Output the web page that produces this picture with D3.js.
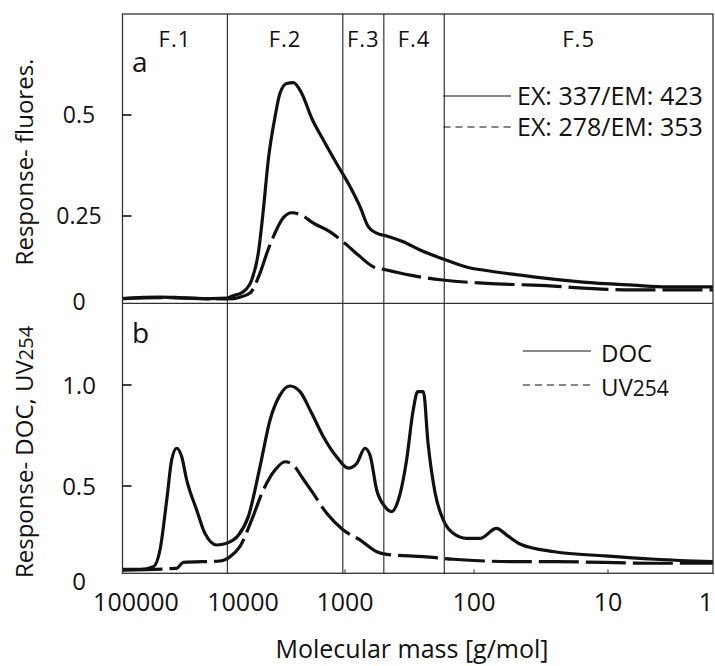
<!DOCTYPE html>
<html>
<head>
<meta charset="utf-8">
<script src="https://cdn.jsdelivr.net/npm/d3@7"></script>
<style>
  body { margin: 0; background: #fff; }
  text { font-family: "Open Sans", sans-serif; fill: #111; }
</style>
</head>
<body>
<div id="chart"></div>
<script>
// molecular mass axis (g/mol), drawn high -> low
let massTicks = [100000, 10000, 1000, 100, 10, 1];
let massExtent = [133000, 0.96];
let fractionBounds = [14000, 1050, 500, 170];
let fractionLabels = ["F.1", "F.2", "F.3", "F.4", "F.5"];

// panel a: fluorescence
let fluorTicks = [0, 0.25, 0.5];
let ex337Mass = [133000, 60000, 40000, 20000, 14000, 13200, 9930, 8220, 7080, 6320, 5650, 4850, 4340, 3730, 3210, 2660, 2120, 1630, 1210, 915, 765, 660, 568, 475, 353, 262, 173, 107, 86, 45, 36, 15.4, 5.7, 2.7, 0.96];
let ex337 = [0.010, 0.014, 0.013, 0.010, 0.011, 0.015, 0.030, 0.064, 0.142, 0.265, 0.389, 0.496, 0.554, 0.578, 0.580, 0.554, 0.492, 0.438, 0.380, 0.323, 0.273, 0.219, 0.200, 0.192, 0.175, 0.151, 0.125, 0.099, 0.093, 0.078, 0.073, 0.058, 0.049, 0.044, 0.044];
let ex278Mass = [133000, 60000, 20000, 12000, 10700, 8530, 6810, 5690, 4850, 4050, 3330, 2660, 2060, 1400, 970, 765, 607, 475, 313, 175, 80, 36, 5.7, 0.96];
let ex278 = [0.010, 0.013, 0.009, 0.010, 0.014, 0.026, 0.084, 0.151, 0.201, 0.244, 0.258, 0.252, 0.230, 0.204, 0.166, 0.132, 0.103, 0.093, 0.078, 0.064, 0.054, 0.049, 0.035, 0.035];

// panel b: DOC and UV254
let respTicks = [0, 0.5, 1.0];
let docMass = [133000, 91800, 68800, 59700, 51600, 46400, 41700, 37400, 33600, 27100, 22700, 17600, 14200, 11000, 8870, 6810, 5430, 4340, 3460, 2760, 2120, 1630, 1210, 942, 811, 700, 640, 568, 490, 435, 386, 333, 296, 273, 247, 227, 200, 173, 145, 114, 90, 68, 57, 45, 25, 10.5, 3.5, 0.96];
let doc = [0.021, 0.021, 0.036, 0.132, 0.420, 0.629, 0.687, 0.645, 0.530, 0.362, 0.228, 0.161, 0.171, 0.218, 0.324, 0.596, 0.827, 0.950, 0.995, 0.967, 0.860, 0.744, 0.645, 0.588, 0.612, 0.687, 0.653, 0.477, 0.381, 0.353, 0.420, 0.629, 0.876, 0.967, 0.967, 0.711, 0.458, 0.305, 0.228, 0.199, 0.199, 0.257, 0.218, 0.165, 0.122, 0.098, 0.079, 0.065];
let uvMass = [133000, 41700, 36100, 16400, 13200, 10700, 8220, 6320, 4850, 3870, 3210, 2660, 2050, 1510, 1040, 765, 568, 475, 247, 145, 45, 24.9, 3.5, 0.96];
let uv = [0.017, 0.027, 0.061, 0.069, 0.094, 0.151, 0.305, 0.477, 0.579, 0.620, 0.604, 0.546, 0.458, 0.343, 0.247, 0.190, 0.122, 0.107, 0.094, 0.079, 0.065, 0.065, 0.056, 0.056];

let width = 715, height = 666;
let pLeft = 122.5, pRight = 713, pTop = 14, pMid = 303.3, pBottom = 573.3;

let svg = d3.select("#chart")
  .append("svg")
  .attr("width", width)
  .attr("height", height);

// the mass axis of the original is not evenly spaced per decade
let x = d3.scaleLog()
  .domain([massExtent[0]].concat(massTicks, [massExtent[1]]))
  .range([pLeft, 136, 243, 345, 474, 608, 711, pRight]);

let yA = d3.scaleLinear().domain(fluorTicks).range([302, 216, 115]);
let yB = d3.scaleLinear().domain(respTicks).range([573, 486, 385]);

// clip paths for the two panels
let defs = svg.append("defs");
defs.append("clipPath").attr("id", "clipA")
  .append("rect").attr("x", pLeft).attr("y", pTop).attr("width", pRight - pLeft).attr("height", pMid - pTop);
defs.append("clipPath").attr("id", "clipB")
  .append("rect").attr("x", pLeft).attr("y", pMid).attr("width", pRight - pLeft).attr("height", pBottom - pMid);

function drawCurve(clip, yScale, masses, values, dashed) {
  let line = d3.line()
    .x(d => x(d[0]))
    .y(d => yScale(d[1]))
    .curve(d3.curveMonotoneX);
  svg.append("path")
    .datum(masses.map((m, i) => [m, values[i]]))
    .attr("clip-path", `url(#${clip})`)
    .attr("fill", "none")
    .attr("stroke", "#111")
    .attr("stroke-width", 3.2)
    .attr("stroke-linejoin", "round")
    .attr("stroke-dasharray", dashed ? "40,7" : null)
    .attr("d", line);
}

drawCurve("clipA", yA, ex337Mass, ex337, false);
drawCurve("clipA", yA, ex278Mass, ex278, true);
drawCurve("clipB", yB, docMass, doc, false);
drawCurve("clipB", yB, uvMass, uv, true);

// frame and fraction boundaries
svg.append("rect")
  .attr("x", pLeft).attr("y", pTop)
  .attr("width", pRight - pLeft).attr("height", pBottom - pTop)
  .attr("fill", "none").attr("stroke", "#333").attr("stroke-width", 1.3);
svg.append("line")
  .attr("x1", pLeft).attr("x2", pRight).attr("y1", pMid).attr("y2", pMid)
  .attr("stroke", "#333").attr("stroke-width", 1.3);
svg.selectAll(".frac")
  .data(fractionBounds)
  .enter().append("line")
  .attr("class", "frac")
  .attr("x1", d => x(d)).attr("x2", d => x(d))
  .attr("y1", pTop).attr("y2", pBottom)
  .attr("stroke", "#222").attr("stroke-width", 1.1);

let edges = [massExtent[0]].concat(fractionBounds, [massExtent[1]]);
svg.selectAll(".fracLabel")
  .data(fractionLabels)
  .enter().append("text")
  .attr("class", "fracLabel")
  .attr("x", (d, i) => (x(edges[i]) + x(edges[i + 1])) / 2)
  .attr("y", 47)
  .attr("text-anchor", "middle")
  .style("font-size", "22px")
  .style("letter-spacing", "1px")
  .text(d => d);

// y ticks
function yAxis(yScale, ticks, labels, size, zeroShift) {
  svg.selectAll(null)
    .data(ticks.filter(t => t > 0))
    .enter().append("line")
    .attr("x1", pLeft).attr("x2", pLeft + 9)
    .attr("y1", d => yScale(d)).attr("y2", d => yScale(d))
    .attr("stroke", "#111").attr("stroke-width", 1.6);
  svg.selectAll(null)
    .data(ticks)
    .enter().append("text")
    .attr("x", 79)
    .attr("y", d => yScale(d) + (d === 0 ? zeroShift : 0))
    .attr("dy", "0.36em")
    .attr("text-anchor", "middle")
    .style("font-size", size + "px")
    .text((d, i) => labels[i]);
}
yAxis(yA, fluorTicks, ["0", "0.25", "0.5"], 23, 0);
yAxis(yB, respTicks, ["0", "0.5", "1.0"], 24, 8);

// x ticks
svg.selectAll(".xtick")
  .data(massTicks.filter(d => d <= 1000 && d >= 10))
  .enter().append("line")
  .attr("class", "xtick")
  .attr("x1", d => x(d)).attr("x2", d => x(d))
  .attr("y1", pBottom).attr("y2", pBottom - 4)
  .attr("stroke", "#333");
svg.selectAll(".xlabel")
  .data(massTicks)
  .enter().append("text")
  .attr("class", "xlabel")
  .attr("x", d => Math.min(x(d), width - 9))
  .attr("y", 611)
  .attr("text-anchor", "middle")
  .style("font-size", "25px")
  .text(d => d);

// axis titles
svg.append("text")
  .attr("transform", "translate(33,162) rotate(-90)")
  .attr("text-anchor", "middle")
  .style("font-size", "24px")
  .text("Response- fluores.");
let tB = svg.append("text")
  .attr("transform", "translate(33,452) rotate(-90)")
  .attr("text-anchor", "middle")
  .style("font-size", "24px")
  .text("Response- DOC, UV");
tB.append("tspan").style("font-size", "20px").text("254");
svg.append("text")
  .attr("x", 412).attr("y", 658)
  .attr("text-anchor", "middle")
  .style("font-size", "25px")
  .text("Molecular mass [g/mol]");

// panel letters
svg.append("text").attr("x", 132).attr("y", 72).style("font-size", "28px").text("a");
svg.append("text").attr("x", 132).attr("y", 343).style("font-size", "28px").text("b");

// legends
let legA = [{ label: "EX: 337/EM: 423", y: 96, dash: null }, { label: "EX: 278/EM: 353", y: 127, dash: "7,5" }];
legA.forEach(function (d) {
  svg.append("line")
    .attr("x1", 443.5).attr("x2", 511).attr("y1", d.y).attr("y2", d.y)
    .attr("stroke", "#111").attr("stroke-width", 1.2)
    .attr("stroke-dasharray", d.dash);
  svg.append("text")
    .attr("x", 517).attr("y", d.y + 9)
    .style("font-size", "25px")
    .text(d.label);
});

let legB = [{ label: "DOC", sub: "", y: 351, dash: null }, { label: "UV", sub: "254", y: 385, dash: "7,5" }];
legB.forEach(function (d) {
  svg.append("line")
    .attr("x1", 523).attr("x2", 591).attr("y1", d.y).attr("y2", d.y)
    .attr("stroke", "#111").attr("stroke-width", 1.2)
    .attr("stroke-dasharray", d.dash);
  let t = svg.append("text")
    .attr("x", 601).attr("y", d.y + 11)
    .style("font-size", "24px")
    .text(d.label);
  if (d.sub) t.append("tspan").style("font-size", "21px").text(d.sub);
});
</script>
</body>
</html>
